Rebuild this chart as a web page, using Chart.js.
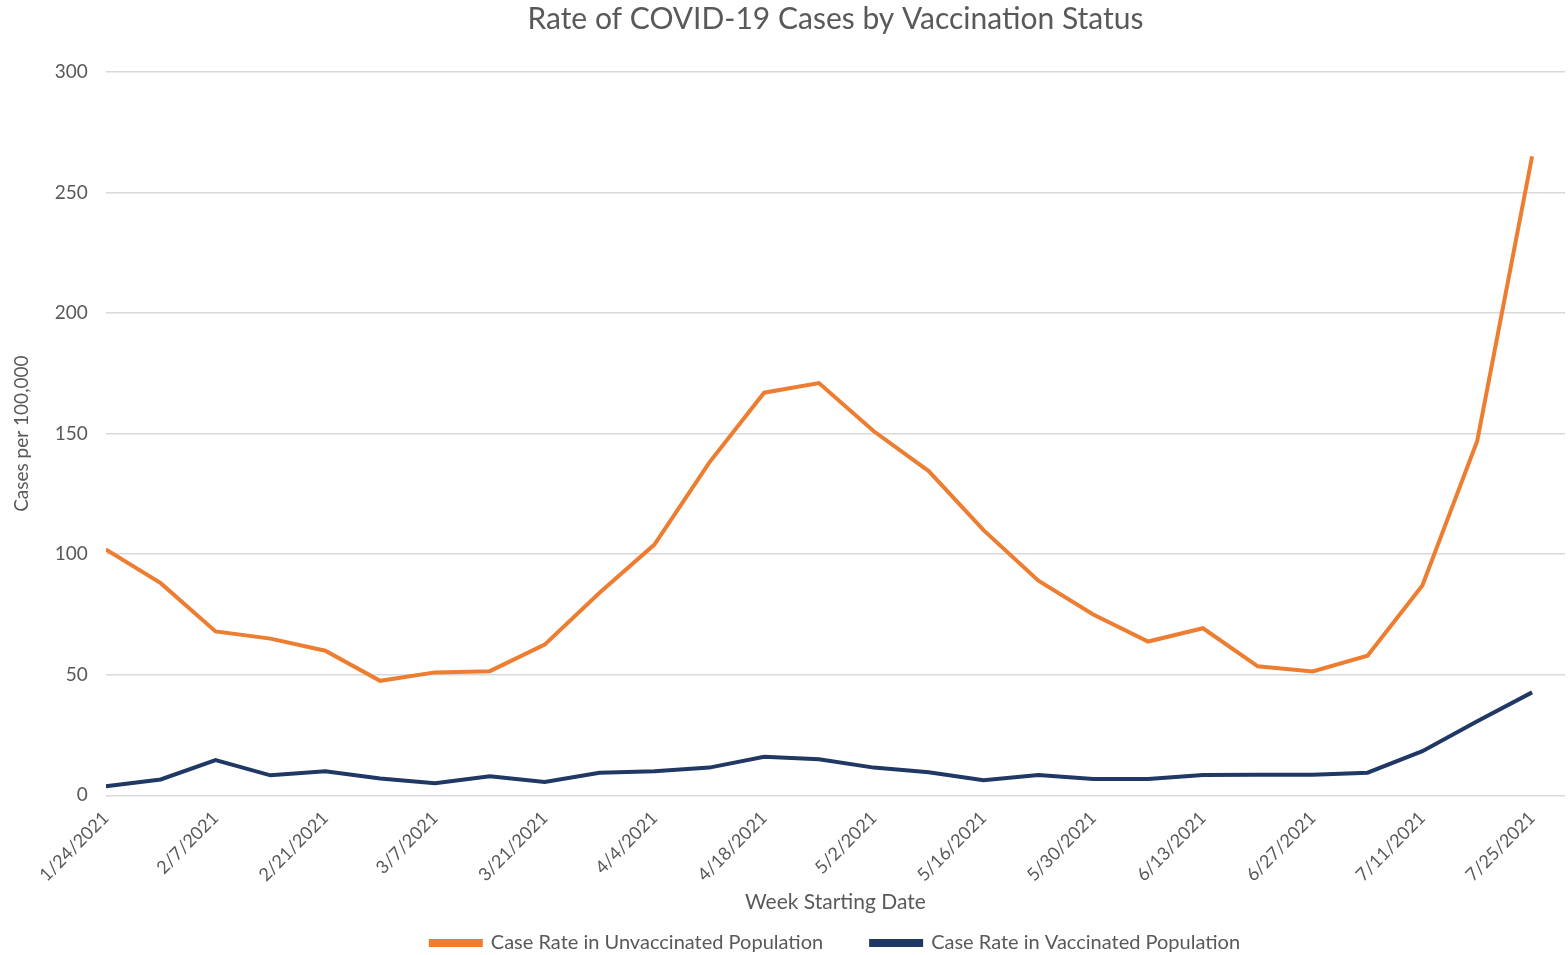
<!DOCTYPE html>
<html>
<head>
<meta charset="utf-8">
<script src="https://cdn.jsdelivr.net/npm/chart.js@4/dist/chart.umd.min.js"></script>
<style>
  html, body { margin: 0; padding: 0; background: #ffffff; }
  #wrap { width: 1568px; height: 955px; }
</style>
</head>
<body>
<div id="wrap"><canvas id="chart" width="1568" height="955"></canvas></div>
<script>
// week starting dates, one per point
const weekLabels = [
  '1/24/2021', '1/31/2021', '2/7/2021', '2/14/2021', '2/21/2021', '2/28/2021',
  '3/7/2021', '3/14/2021', '3/21/2021', '3/28/2021', '4/4/2021', '4/11/2021',
  '4/18/2021', '4/25/2021', '5/2/2021', '5/9/2021', '5/16/2021', '5/23/2021',
  '5/30/2021', '6/6/2021', '6/13/2021', '6/20/2021', '6/27/2021', '7/4/2021',
  '7/11/2021', '7/18/2021', '7/25/2021'
];

const unvaccinatedRate = [
  102, 88, 68, 65, 60, 47.5, 51, 51.5, 62.5, 84, 104, 138, 167, 171,
  151, 134.5, 110, 89, 75, 63.8, 69.3, 53.5, 51.4, 57.9, 87, 147, 265
];

const vaccinatedRate = [
  3.8, 6.6, 14.6, 8.3, 10, 7, 5, 7.9, 5.5, 9.4, 10, 11.5, 16, 15,
  11.5, 9.6, 6.3, 8.4, 6.8, 6.8, 8.4, 8.5, 8.5, 9.4, 18.3, 30.7, 42.7
];

const yTicks = [0, 50, 100, 150, 200, 250, 300];

const textColor = '#595959';
const fontFamily = 'Lato, "Open Sans", sans-serif';

const toPoints = values => values.map((v, i) => ({ x: i, y: v }));

new Chart(document.getElementById('chart'), {
  type: 'line',
  data: {
    datasets: [
      {
        label: 'Case Rate in Unvaccinated Population',
        data: toPoints(unvaccinatedRate),
        borderColor: '#ED7D31',
        backgroundColor: '#ED7D31',
        borderWidth: 4,
        pointRadius: 0,
        tension: 0
      },
      {
        label: 'Case Rate in Vaccinated Population',
        data: toPoints(vaccinatedRate),
        borderColor: '#1F3864',
        backgroundColor: '#1F3864',
        borderWidth: 4,
        pointRadius: 0,
        tension: 0
      }
    ]
  },
  options: {
    responsive: false,
    animation: false,
    devicePixelRatio: 1,
    // negative bottom padding: the legend's label padding is big (for the gap
    // between the two items) and would otherwise push everything up
    layout: { padding: { left: 10, right: 3, top: 1, bottom: -8 } },
    scales: {
      x: {
        type: 'linear',
        min: 0,
        max: 26.6,
        afterBuildTicks: scale => {
          scale.ticks = weekLabels
            .map((_, i) => ({ value: i }))
            .filter(t => t.value % 2 === 0);
        },
        ticks: {
          autoSkip: false,
          maxRotation: 45,
          minRotation: 45,
          padding: 4,
          color: textColor,
          font: { family: fontFamily, size: 18 },
          callback: value => weekLabels[value]
        },
        grid: { display: false },
        border: { display: false },
        title: {
          display: true,
          text: 'Week Starting Date',
          color: textColor,
          font: { family: fontFamily, size: 21 },
          padding: { top: 0, bottom: -30 }
        }
      },
      y: {
        min: 0,
        max: 300,
        afterBuildTicks: scale => {
          scale.ticks = yTicks.map(v => ({ value: v }));
        },
        ticks: {
          padding: 18,
          color: textColor,
          font: { family: fontFamily, size: 19 }
        },
        grid: { color: '#d9d9d9', lineWidth: 1.5, drawTicks: false },
        border: { display: false },
        title: {
          display: true,
          text: 'Cases per 100,000',
          color: textColor,
          font: { family: fontFamily, size: 19 },
          padding: { top: 0, bottom: 4 }
        }
      }
    },
    plugins: {
      title: {
        display: true,
        fullSize: false,
        text: 'Rate of COVID-19 Cases by Vaccination Status',
        color: textColor,
        font: { family: fontFamily, size: 30, weight: 'normal' },
        padding: { top: 0, bottom: 35 }
      },
      legend: {
        position: 'bottom',
        fullSize: false,
        labels: {
          color: textColor,
          font: { family: fontFamily, size: 20 },
          boxWidth: 50,
          boxHeight: 4,
          padding: 48
        }
      },
      tooltip: { enabled: false }
    }
  }
});
</script>
</body>
</html>
